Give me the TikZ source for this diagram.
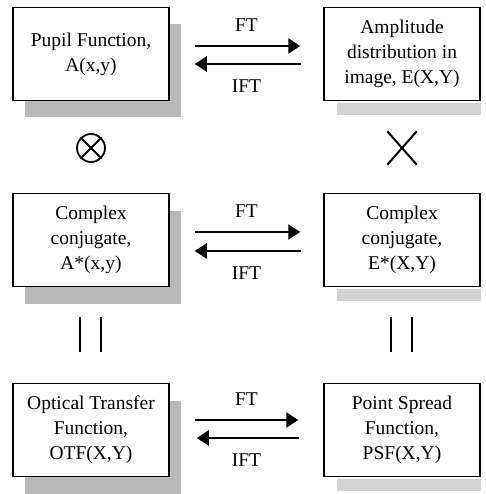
\documentclass[tikz,border=0pt]{standalone}
\usepackage{fontspec}
\setmainfont{Liberation Serif}
\usetikzlibrary{positioning,arrows.meta,shadows}

\begin{document}
\begin{tikzpicture}[x=1pt,y=-1pt,on grid,
	box/.style={draw,line width=1.5pt,fill=white,align=center,inner sep=0pt,
		minimum width=156pt,minimum height=93pt,font=\fontsize{19.5}{25}\selectfont},
	lbox/.style={box,drop shadow={shadow xshift=12pt,shadow yshift=-17pt,fill=gray!55,opacity=1}},
	rshade/.style={fill=gray!35},
	fwd/.style={line width=2.6pt,-{Triangle[length=12pt,width=15pt]}},
	lab/.style={inner sep=0pt,font=\fontsize{19.5}{25}\selectfont},
	bar/.style={line width=2.2pt}]
	\useasboundingbox (0,0) rectangle (485,494);

	\node[lbox] (pupil) at (91,54) {Pupil Function,\\A(x,y)};
	\node[box] (ampl) [right=311pt of pupil] {Amplitude\\distribution in\\image, E(X,Y)};
	\node[lbox] (conjA) [below=186pt of pupil] {Complex\\conjugate,\\A*(x,y)};
	\node[box] (conjE) [right=311pt of conjA] {Complex\\conjugate,\\E*(X,Y)};
	\node[lbox] (otf) [below=190pt of conjA] {Optical Transfer\\Function,\\OTF(X,Y)};
	\node[box] (psf) [right=311pt of otf] {Point Spread\\Function,\\PSF(X,Y)};

	% shadow strips under the right column
	\fill[rshade] ([xshift=14pt,yshift=-2pt]ampl.south west) rectangle ([yshift=-14pt]ampl.south east);
	\fill[rshade] ([xshift=14pt,yshift=-2pt]conjE.south west) rectangle ([yshift=-14pt]conjE.south east);
	\fill[rshade] ([xshift=14pt,yshift=-2pt]psf.south west) rectangle ([yshift=-14pt]psf.south east);

	% transforms
	\draw[fwd,shorten <=25pt,shorten >=23pt] ([yshift=8pt]pupil.east) -- node[lab,above=13pt] {FT} ([yshift=8pt]ampl.west);
	\draw[fwd,shorten <=22pt,shorten >=25pt] ([yshift=-10pt]ampl.west) -- node[lab,below=14pt] {IFT} ([yshift=-10pt]pupil.east);
	\draw[fwd,shorten <=25pt,shorten >=23pt] ([yshift=8pt]conjA.east) -- node[lab,above=13pt] {FT} ([yshift=8pt]conjE.west);
	\draw[fwd,shorten <=22pt,shorten >=25pt] ([yshift=-11pt]conjE.west) -- node[lab,below=14pt] {IFT} ([yshift=-11pt]conjA.east);
	\draw[fwd,shorten <=25pt,shorten >=25pt] ([yshift=10pt]otf.east) -- node[lab,above=13pt] {FT} ([yshift=10pt]psf.west);
	\draw[fwd,shorten <=24pt,shorten >=27pt] ([yshift=-8pt]psf.west) -- node[lab,below=14pt] {IFT} ([yshift=-8pt]otf.east);

	% operators
	\node[draw,circle,line width=1.8pt,minimum size=28pt,inner sep=0pt] (conv) [below=94pt of pupil] {};
	\draw[line width=1.8pt] (conv.north west) -- (conv.south east) (conv.north east) -- (conv.south west);
	\node[minimum width=29pt,minimum height=33pt,inner sep=0pt] (mult) [below=94pt of ampl] {};
	\draw[line width=2pt] (mult.north west) -- (mult.south east) (mult.north east) -- (mult.south west);

	% equals
	\draw[bar] ([xshift=-11pt,yshift=-30pt]conjA.south) -- ([xshift=-11pt,yshift=-65pt]conjA.south);
	\draw[bar] ([xshift=10pt,yshift=-30pt]conjA.south) -- ([xshift=10pt,yshift=-65pt]conjA.south);
	\draw[bar] ([xshift=-11pt,yshift=-30pt]conjE.south) -- ([xshift=-11pt,yshift=-65pt]conjE.south);
	\draw[bar] ([xshift=10pt,yshift=-30pt]conjE.south) -- ([xshift=10pt,yshift=-65pt]conjE.south);
\end{tikzpicture}
\end{document}
